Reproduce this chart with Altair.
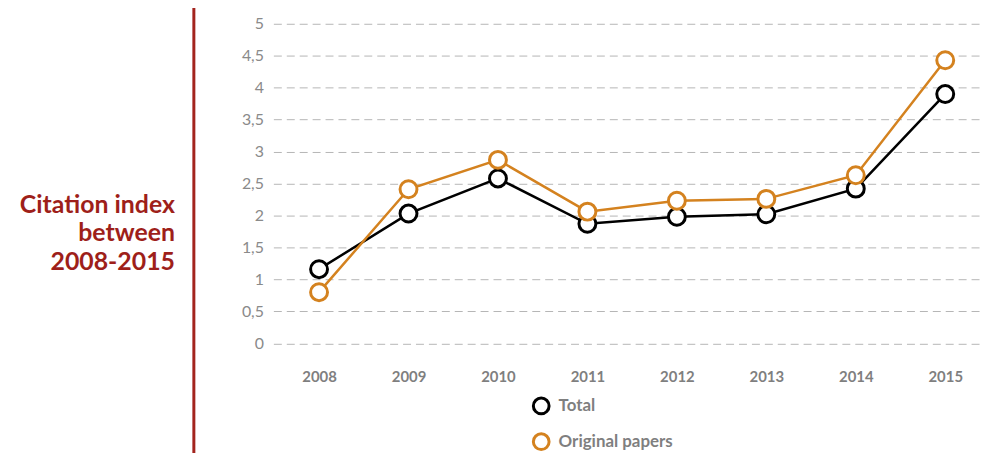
import altair as alt
import pandas as pd

years = ["2008", "2009", "2010", "2011", "2012", "2013", "2014", "2015"]
total = [1.16, 2.03, 2.58, 1.87, 1.98, 2.02, 2.42, 3.90]
original = [0.80, 2.41, 2.87, 2.06, 2.23, 2.26, 2.63, 4.43]
series_names = ["Total", "Original papers"]
series_colors = ["#000000", "#D4821F"]
title_lines = ["Citation index", "between", "2008-2015"]
y_ticks = [0, 0.5, 1, 1.5, 2, 2.5, 3, 3.5, 4, 4.5, 5]

rows = []
for y, t, o in zip(years, total, original):
    rows.append({"year": y, "value": t, "series": series_names[0]})
    rows.append({"year": y, "value": o, "series": series_names[1]})
df = pd.DataFrame(rows)

W, H = 715, 321.5

color = alt.Color(
    "series:N",
    scale=alt.Scale(domain=series_names, range=series_colors),
    legend=alt.Legend(
        title=None,
        orient="none",
        legendX=260,
        legendY=375,
        symbolType="circle",
        symbolSize=250,
        symbolFillColor="white",
        symbolStrokeWidth=3,
        labelFont="Lato",
        labelFontSize=17,
        labelFontWeight="bold",
        labelColor="#7F7F7F",
        rowPadding=7,
        labelOffset=8,
    ),
)

x = alt.X(
    "year:O",
    sort=years,
    scale=alt.Scale(type="point", padding=0.472, align=0.541),
    axis=alt.Axis(
        title=None,
        domain=False,
        ticks=False,
        grid=False,
        labelAngle=0,
        labelFont="Lato",
        labelFontSize=15,
        labelFontWeight="bold",
        labelColor="#7F7F7F",
        labelPadding=26,
    ),
)
y = alt.Y(
    "value:Q",
    scale=alt.Scale(domain=[0, 5], nice=False),
    axis=alt.Axis(
        title=None,
        values=y_ticks,
        domain=False,
        ticks=False,
        grid=True,
        gridDash=[8, 5],
        gridColor="#B5B5B5",
        gridWidth=1,
        labelFont="Lato",
        labelFontSize=16,
        labelColor="#8A8A8A",
        labelPadding=10,
        labelExpr="replace(format(datum.value, '~g'), '.', ',')",
    ),
)

base = alt.Chart(df)
layers = []
for name in series_names:
    sub = base.transform_filter(alt.datum.series == name)
    layers.append(sub.mark_line(strokeWidth=2.5).encode(x=x, y=y, color=color))
    layers.append(
        sub.mark_point(shape="circle", size=290, filled=False, fill="white", fillOpacity=1, strokeWidth=3, opacity=1).encode(
            x=x, y=y, color=color
        )
    )

texts = []
for k, line in enumerate(title_lines):
    texts.append(
        alt.Chart(pd.DataFrame({"t": [line]})).mark_text(
            align="right", baseline="middle", font="Lato", fontSize=25, fontWeight="bold",
            color="#9E1F1A"
        ).encode(x=alt.value(-99), y=alt.value(182 + 29 * k), text="t:N")
    )

bar = alt.Chart(pd.DataFrame({"a": [0]})).mark_rule(color="#A3241E", strokeWidth=3).encode(
    x=alt.value(-80), y=alt.value(-18), y2=alt.value(445)
)

chart = alt.layer(bar, *texts, *layers).properties(
    width=W,
    height=H,
    background="white",
    padding={"left": 267, "top": 14.5, "right": 0, "bottom": 109},
    autosize=alt.AutoSizeParams(type="none"),
).configure_view(strokeWidth=0)

chart.save("out.html", embed_options={"renderer": "svg", "actions": False})
